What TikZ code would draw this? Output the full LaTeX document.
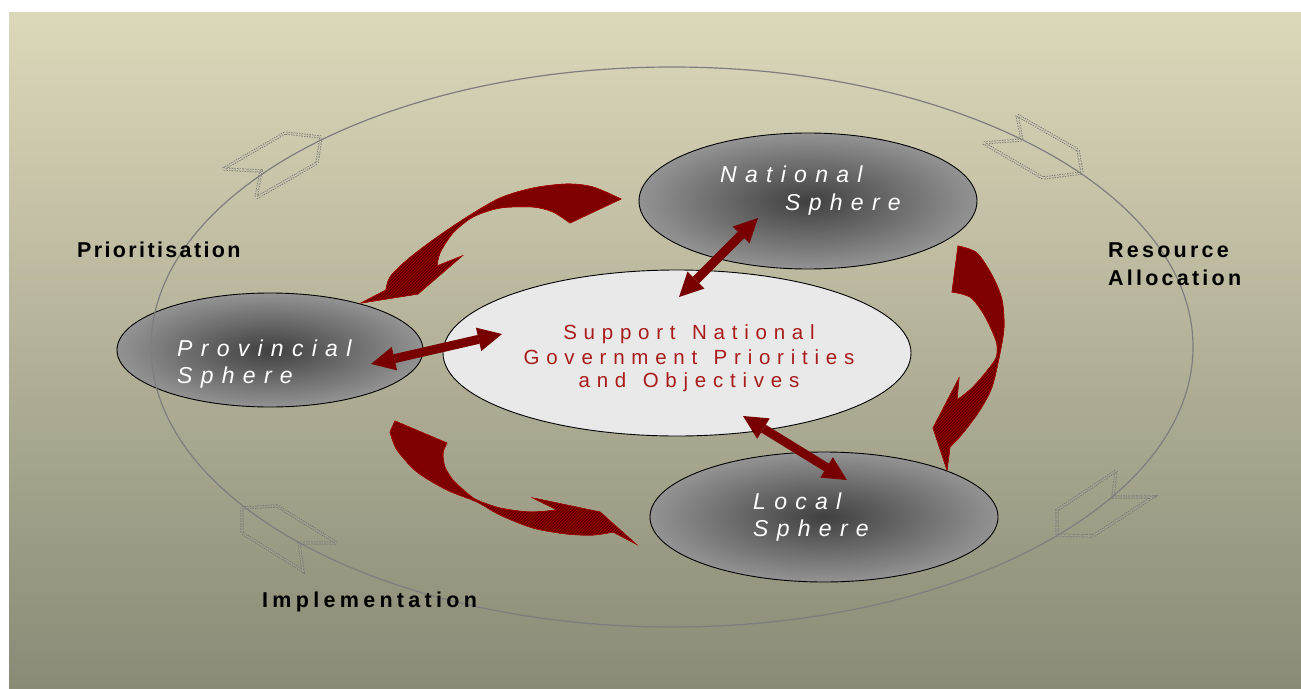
\documentclass[tikz,border=0pt]{standalone}
\usepackage{fontspec}
\setmainfont{Liberation Sans}
\newfontfamily\sphfont[LetterSpace=36]{Liberation Sans}
\newfontfamily\ctrfont[LetterSpace=33]{Liberation Sans}
\newfontfamily\lblfont[LetterSpace=15]{Liberation Sans}
\newfontfamily\lblfontB[LetterSpace=11]{Liberation Sans}
\newfontfamily\lblfontC[LetterSpace=20]{Liberation Sans}
\usetikzlibrary{shapes.geometric,arrows.meta,patterns}
\definecolor{bgtop}{HTML}{DCD8BA}
\definecolor{bgmid}{HTML}{C4C0A4}
\definecolor{bgbot}{HTML}{8A8A76}
\definecolor{sphin}{HTML}{404040}
\definecolor{sphout}{HTML}{939393}
\definecolor{ctrfill}{HTML}{E9E9E9}
\definecolor{ctrred}{HTML}{A81C1C}
\definecolor{dred}{HTML}{780000}
\definecolor{redsolid}{HTML}{7F0000}
\definecolor{redline}{HTML}{A00000}
\definecolor{hatchbase}{HTML}{5E0000}
\definecolor{hatchline}{HTML}{B00000}
\definecolor{ringc}{HTML}{7E7E7E}
\definecolor{hollowc}{HTML}{787878}
\definecolor{hcA}{HTML}{D4D0B2}
\definecolor{hcB}{HTML}{D5D1B3}
\definecolor{hcC}{HTML}{A9A892}
\definecolor{hcD}{HTML}{A5A48E}
\newcommand\pathA{plot[smooth] coordinates {(621,199) (593,187) (567,184) (533,188) (500,198) (467,217) (433,240) (407,260) (390,277) (386,290)} -- (361,303) -- (418,294) -- (462,256) -- plot[smooth] coordinates {(437,266) (440,253) (453,233) (473,217) (500,208) (533,207) (553,212) (570,223)} -- cycle}
\newcommand\pathB{plot[smooth] coordinates {(958,246) (977,253) (993,277) (1002,300) (1004,327) (1000,353) (992,387) (980,410) (963,433) (950,447)} -- (947,470) -- (933,428) -- (959,378) -- plot[smooth] coordinates {(957,400) (972,388) (986,372) (996,358) (997,345) (993,333) (983,313) (970,297) (952,292)} -- cycle}
\newcommand\pathC{(395,421) -- plot[smooth] coordinates {(447,443) (443,453) (445,467) (453,480) (467,493) (477,500) (500,508) (530,512) (557,510)} -- (533,498) -- (600,512) -- (636,544) -- plot[smooth] coordinates {(613,532) (593,535) (567,534) (533,528) (500,515) (477,502) (447,490) (417,472) (397,450) (390,432)} -- cycle}
\tikzset{
  sphere/.style={ellipse, draw=black, line width=0.9pt, inner color=sphin, outer color=sphout, inner sep=0pt},
  ctrbox/.style={ellipse, draw=black, line width=0.9pt, fill=ctrfill, inner sep=0pt},
  sphtext/.style={text=white, font=\sphfont\itshape\fontsize{23}{26}\selectfont, anchor=base west, inner sep=0pt},
  ctrtext/.style={text=ctrred, font=\ctrfont\fontsize{20.5}{24}\selectfont, anchor=base, inner sep=0pt},
  lbl/.style={text=black, font=\lblfont\bfseries\fontsize{21.5}{28}\selectfont, anchor=base west, inner sep=0pt},
  dbl/.style={draw=dred, line width=9pt, {Triangle[length=24pt,width=24pt,line width=0pt]}-{Triangle[length=24pt,width=24pt,line width=0pt]}},
  hollow/.style={draw=hollowc, line width=0.9pt, dash pattern=on 1.3pt off 1.3pt, double=#1, double distance=1.4pt, line join=miter},
  ring/.style={ellipse, draw=ringc, line width=1.2pt, inner sep=0pt},
  curved/.style={fill=redsolid, draw=redline, line width=0.6pt}
}
\begin{document}
\begin{tikzpicture}[x=1pt,y=-1pt]
\useasboundingbox (0,0) rectangle (1301,688);
\fill[white] (0,0) rectangle (1301,688);
\fill[top color=bgtop, middle color=bgmid, bottom color=bgbot] (9,12) rectangle (1301,688);
% hollow dotted arrows on the ring
\draw[hollow=hcA] (223,169) -- (285,133) -- (321,137) -- (317,163) -- (256,198) -- (261,171) -- cycle;
\draw[hollow=hcB] (1017,115) -- (1022,140) -- (983,143) -- (1043,178) -- (1082,173) -- (1078,150) -- cycle;
\draw[hollow=hcC] (1116,471) -- (1113,497) -- (1153,497) -- (1093,536) -- (1057,535) -- (1057,510) -- cycle;
\draw[hollow=hcD] (242,508) -- (277,506) -- (337,543) -- (299,543) -- (303,571) -- (242,533) -- cycle;
% ellipses
\node[sphere, minimum width=338pt, minimum height=136pt] (nat) at (808,201) {};
\node[sphere, minimum width=306pt, minimum height=114pt] (prov) at (270,350) {};
\node[sphere, minimum width=348pt, minimum height=130pt] (loc) at (824,517) {};
\node[ctrbox, minimum width=468pt, minimum height=166pt] (ctr) at (677,353) {};
% curved block arrows
\fill[curved] \pathA;
\begin{scope}
\clip \pathA;
\fill[hatchbase] (330,205) rectangle (469,320);
\fill[pattern=north east lines, pattern color=hatchline] (330,205) rectangle (469,320);
\end{scope}
\draw[redline, line width=0.6pt] \pathA;
\fill[curved] \pathB;
\begin{scope}
\clip \pathB;
\fill[hatchbase] (920,356) rectangle (1020,480);
\fill[pattern=north east lines, pattern color=hatchline] (920,356) rectangle (1020,480);
\end{scope}
\draw[redline, line width=0.6pt] \pathB;
\fill[curved] \pathC;
\begin{scope}
\clip \pathC;
\fill[hatchbase] (478,480) rectangle (650,560);
\fill[pattern=north east lines, pattern color=hatchline] (478,480) rectangle (650,560);
\end{scope}
\draw[redline, line width=0.6pt] \pathC;
% double arrows
\coordinate (dn1) at (679,297);
\coordinate (dn2) at (758,218);
\coordinate (dp1) at (371,364);
\coordinate (dp2) at (502,334);
\coordinate (dl1) at (743,416);
\coordinate (dl2) at (847,480);
\draw[dbl] (dn1) -- (dn2);
\draw[dbl] (dp1) -- (dp2);
\draw[dbl] (dl1) -- (dl2);
% ring
\node[ring, minimum width=1042pt, minimum height=560pt] (ringnode) at (672,347) {};
% texts
\node[sphtext] (natT1) at (720,182) {National};
\node[sphtext] (natT2) at (785,210) {Sphere};
\node[sphtext] (provT1) at (177,356) {Provincial};
\node[sphtext] (provT2) at (177,383) {Sphere};
\node[sphtext] (locT1) at (753,509) {Local};
\node[sphtext] (locT2) at (753,536) {Sphere};
\node[ctrtext] (c1) at (689,339) {Support \hspace{4pt}National};
\node[ctrtext] (c2) at (689,364) {Government \hspace{4pt}Priorities};
\node[ctrtext] (c3) at (689,387) {and \hspace{4pt}Objectives};
\node[lbl, font=\lblfontB\bfseries\fontsize{21.5}{28}\selectfont] (lp) at (77,257) {Prioritisation};
\node[lbl] (lr1) at (1108,257) {Resource};
\node[lbl] (lr2) at (1108,285) {Allocation};
\node[lbl, font=\lblfontC\bfseries\fontsize{21.5}{28}\selectfont] (li) at (262,607) {Implementation};
\end{tikzpicture}
\end{document}
